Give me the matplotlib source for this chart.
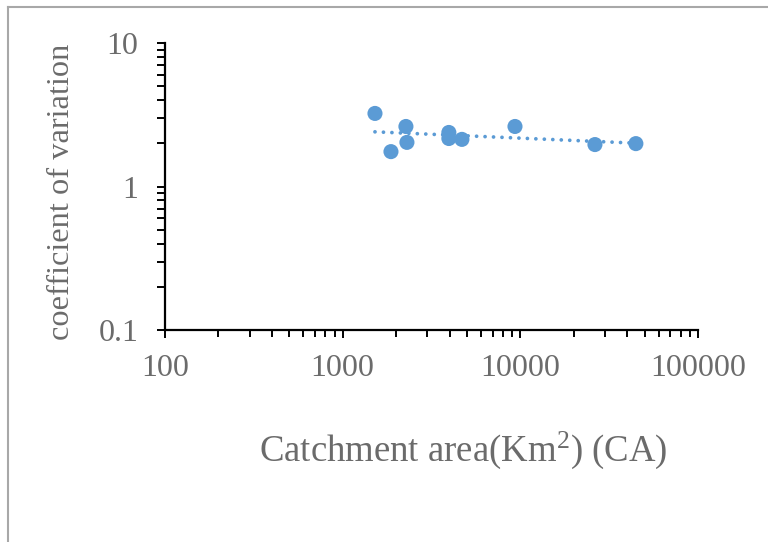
import numpy as np
import matplotlib
matplotlib.use("Agg")
import matplotlib.pyplot as plt
from matplotlib.ticker import LogLocator, FixedLocator, FixedFormatter, NullFormatter
from matplotlib.lines import Line2D

plt.rcParams['font.family'] = ['Liberation Serif', 'DejaVu Serif']
plt.rcParams['mathtext.fontset'] = 'custom'
plt.rcParams['mathtext.rm'] = 'Liberation Serif'
plt.rcParams['mathtext.it'] = 'Liberation Serif:italic'

# Data
catchment_area = [1520, 1870, 2270, 2300, 3960, 3960, 4690, 9330, 26300, 44700]
cv = [3.23, 1.75, 2.62, 2.03, 2.38, 2.16, 2.13, 2.62, 1.96, 1.99]

x_ticks = [100, 1000, 10000, 100000]
x_tick_labels = ["100", "1000", "10000", "100000"]
y_ticks = [0.1, 1, 10]
y_tick_labels = ["0.1", "1", "10"]

text_color = "#6b6b6b"
point_color = "#5B9BD5"

fig = plt.figure(figsize=(7.68, 5.42), dpi=100)
ax = fig.add_axes([165/768, 1-330/542, (698-165)/768, (330-43)/542])

# frame of the figure (grey border at top and left)
fig.add_artist(Line2D([8/768, 8/768], [0, 1-7/542], color="#a8a8a8", lw=1.5, transform=fig.transFigure))
fig.add_artist(Line2D([8/768, 1], [1-7/542, 1-7/542], color="#a8a8a8", lw=1.5, transform=fig.transFigure))

ax.set_xscale('log')
ax.set_yscale('log')
ax.set_xlim(100, 100000)
ax.set_ylim(0.1, 10)

# power trendline (fit in log-log space)
lx = np.log10(catchment_area)
ly = np.log10(cv)
b, a = np.polyfit(lx, ly, 1)
xs = np.logspace(lx.min(), lx.max(), 200)
ax.plot(xs, 10**(a + b*np.log10(xs)), color=point_color, lw=2.7,
        linestyle=(0, (0.01, 2.25)), dash_capstyle='round', zorder=2)

ax.scatter(catchment_area, cv, s=118, color=point_color, edgecolors='none', zorder=3)

for s in ['top', 'right']:
    ax.spines[s].set_visible(False)
for s in ['left', 'bottom']:
    ax.spines[s].set_linewidth(1.6)
    ax.spines[s].set_color('black')

ax.xaxis.set_major_locator(FixedLocator(x_ticks))
ax.xaxis.set_major_formatter(FixedFormatter(x_tick_labels))
ax.yaxis.set_major_locator(FixedLocator(y_ticks))
ax.yaxis.set_major_formatter(FixedFormatter(y_tick_labels))
ax.xaxis.set_minor_locator(LogLocator(base=10, subs=np.arange(2, 10)))
ax.yaxis.set_minor_locator(LogLocator(base=10, subs=np.arange(2, 10)))
ax.xaxis.set_minor_formatter(NullFormatter())
ax.yaxis.set_minor_formatter(NullFormatter())

ax.tick_params(axis='both', which='both', direction='out', color='black', width=1.4,
               labelsize=23, labelcolor=text_color)
ax.tick_params(axis='y', which='major', length=6, pad=13)
ax.tick_params(axis='y', which='minor', length=6)
ax.tick_params(axis='x', which='major', length=6, pad=11)
ax.tick_params(axis='x', which='minor', length=5)

fig.text(463/768, 1-450/542, "Catchment area(Km$^{\\mathrm{2}}$) (CA)", ha='center', va='center',
         fontsize=26.5, color=text_color)
fig.text(62/768, 1-192/542, "coefficient of variation", ha='center', va='center',
         rotation=90, fontsize=23.3, color=text_color)

fig.savefig("out.png", dpi=100)
